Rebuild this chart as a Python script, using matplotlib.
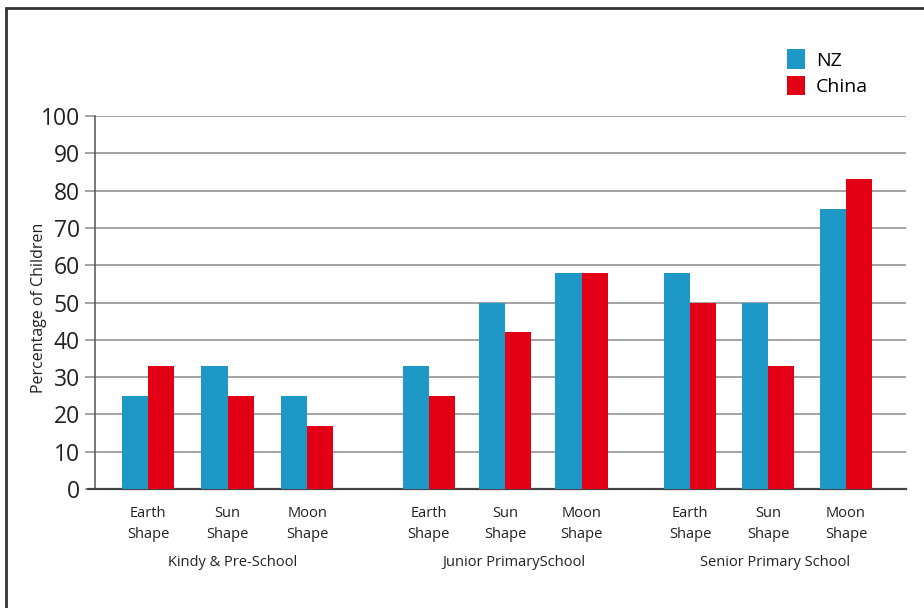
import numpy as np
import matplotlib.pyplot as plt
from matplotlib.patches import Rectangle

plt.rcParams["font.family"] = ["Open Sans", "DejaVu Sans"]

# Data
groups = ["Kindy & Pre-School", "Junior PrimarySchool", "Senior Primary School"]
shapes = ["Earth\nShape", "Sun\nShape", "Moon\nShape"]
nz = [25, 33, 25, 33, 50, 58, 58, 50, 75]
china = [33, 25, 17, 25, 42, 58, 50, 33, 83]
yticks = [0, 10, 20, 30, 40, 50, 60, 70, 80, 90, 100]

NZ_COLOR = "#1e98c6"
CN_COLOR = "#e30016"

# layout: three shapes per group, extra gap between groups
group_offsets = [0.0, 3.6, 6.95]
x = np.array([g + i * sp for g, sp in zip(group_offsets, [1.02, 0.98, 1.0]) for i in range(3)])
w = 0.335

fig = plt.figure(figsize=(9.24, 6.08), dpi=100)
ax = fig.add_axes([95 / 924, 1 - 489 / 608, (906 - 95) / 924, (489 - 116) / 608])

ax.bar(x - w / 2, nz, width=w, color=NZ_COLOR, label="NZ", zorder=3)
ax.bar(x + w / 2, china, width=w, color=CN_COLOR, label="China", zorder=3)

ax.set_xlim(-0.68, 9.72)
ax.set_ylim(0, 100)
ax.set_yticks(yticks)
ax.yaxis.grid(True, color="#8a8a8a", lw=1.1, zorder=0)
ax.tick_params(axis="y", length=7, width=1.1, color="#8a8a8a", labelsize=16.5,
               labelcolor="#222222", pad=4)
ax.set_xticks(x)
ax.set_xticklabels(shapes * 3, fontsize=10.5, color="#222222", linespacing=1.6)
ax.tick_params(axis="x", length=0, pad=12)

for s in ["top", "right"]:
    ax.spines[s].set_visible(False)
ax.spines["left"].set_color("#555555")
ax.spines["left"].set_linewidth(1.1)
ax.spines["bottom"].set_color("#444444")
ax.spines["bottom"].set_linewidth(1.6)
ax.spines["bottom"].set_bounds(-0.68 - 7 / 78, 9.72)
ax.spines["bottom"].set_clip_on(False)

# group labels
for g, name in zip(group_offsets, groups):
    ax.text(g + 1.09, -19.8, name, ha="center", va="center", fontsize=10.5,
            color="#222222", transform=ax.transData)

ax.set_ylabel("Percentage of Children", fontsize=11.5, color="#222222")
ax.yaxis.set_label_coords(-0.059, 0.485)

leg = fig.legend(loc="upper left", bbox_to_anchor=(769 / 924, 1 - 32 / 608),
                 frameon=False, fontsize=14, handlelength=0.95, handleheight=1.15,
                 handletextpad=0.55, labelspacing=0.3)

# outer frame (right and bottom edges fall off the canvas)
fig.patches.append(Rectangle((5.5 / 924, -0.2), 1.2, 1.2 - 8 / 608,
                             transform=fig.transFigure, fill=False,
                             edgecolor="#333333", lw=2))

fig.savefig("out.png", dpi=100)
